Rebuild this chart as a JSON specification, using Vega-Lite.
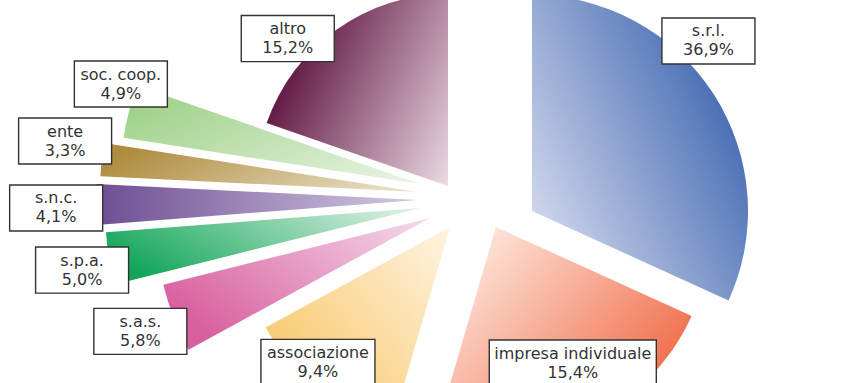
{
  "$schema": "https://vega.github.io/schema/vega-lite/v6.json",
  "width": 794,
  "height": 366,
  "autosize": {"type": "none"},
  "padding": {"left": 48, "top": 17, "right": 0, "bottom": 0},
  "background": "white",
  "config": {"view": {"stroke": null}},
  "data": {
    "values": [
      {"forma": "s.r.l.", "pct": 36.9},
      {"forma": "impresa individuale", "pct": 15.4},
      {"forma": "associazione", "pct": 9.4},
      {"forma": "s.a.s.", "pct": 5.8},
      {"forma": "s.p.a.", "pct": 5.0},
      {"forma": "s.n.c.", "pct": 4.1},
      {"forma": "ente", "pct": 3.3},
      {"forma": "soc. coop.", "pct": 4.9},
      {"forma": "altro", "pct": 15.2}
    ]
  },
  "transform": [
    {"window": [{"op": "sum", "field": "pct", "as": "fin"}], "frame": [null, 0]},
    {"calculate": "datum.fin - datum.pct", "as": "ini"},
    {"calculate": "(datum.ini + datum.pct / 2) * PI / 50", "as": "ang"},
    {"calculate": "397 + 390 * sin(datum.ang)", "as": "lx"},
    {"calculate": "183 - 175 * cos(datum.ang)", "as": "ly"},
    {"calculate": "[datum.forma, replace(format(datum.pct, '.1f'), '.', ',') + '%']", "as": "etichetta"}
  ],
  "layer": [
    {
      "encoding": {
        "theta": {
          "field": "ini",
          "type": "quantitative",
          "scale": {
            "zero": false,
            "nice": false,
            "domain": [0, 3.125, 6.25, 9.375, 12.5, 15.625, 18.75, 21.875, 25, 28.125, 31.25, 34.375, 37.5, 40.625, 43.75, 46.875, 50, 53.125, 56.25, 59.375, 62.5, 65.625, 68.75, 71.875, 75, 78.125, 81.25, 84.375, 87.5, 90.625, 93.75, 96.875, 100],
            "range": [0, 0.38711, 0.70407, 0.94021, 1.11684, 1.25577, 1.37148, 1.47411, 1.5708, 1.66749, 1.77011, 1.88583, 2.02476, 2.20139, 2.43753, 2.75448, 3.14159, 3.52871, 3.84566, 4.0818, 4.25843, 4.39736, 4.51307, 4.6157, 4.71239, 4.80908, 4.91171, 5.02743, 5.16636, 5.34299, 5.57913, 5.89607, 6.28319]
          }
        },
        "theta2": {"field": "fin"}
      },
      "layer": [
        {
          "transform": [{"filter": "datum.forma === 's.r.l.'"}],
          "mark": {"type": "arc", "radius": 216, "xOffset": 87, "yOffset": 11,
            "fill": {"gradient": "linear", "x1": 0, "y1": 1, "x2": 1, "y2": 0.3,
              "stops": [{"offset": 0, "color": "#e6e8f5"}, {"offset": 1, "color": "#3a62ae"}]}}
        },
        {
          "transform": [{"filter": "datum.forma === 'impresa individuale'"}],
          "mark": {"type": "arc", "radius": 215, "xOffset": 51, "yOffset": 27,
            "fill": {"gradient": "linear", "x1": 0.2, "y1": 0, "x2": 1, "y2": 0.6,
              "stops": [{"offset": 0, "color": "#fde6dc"}, {"offset": 1, "color": "#f06a46"}]}}
        },
        {
          "transform": [{"filter": "datum.forma === 'associazione'"}],
          "mark": {"type": "arc", "radius": 210, "xOffset": 5, "yOffset": 27,
            "fill": {"gradient": "linear", "x1": 1, "y1": 0, "x2": 0, "y2": 0.9,
              "stops": [{"offset": 0, "color": "#fff4e3"}, {"offset": 1, "color": "#f7c25a"}]}}
        },
        {
          "transform": [{"filter": "datum.forma === 's.a.s.'"}],
          "mark": {"type": "arc", "radius": 275, "xOffset": -15, "yOffset": 18,
            "fill": {"gradient": "linear", "x1": 1, "y1": 0, "x2": 0, "y2": 0.6,
              "stops": [{"offset": 0, "color": "#f4dcec"}, {"offset": 1, "color": "#d9609f"}]}}
        },
        {
          "transform": [{"filter": "datum.forma === 's.p.a.'"}],
          "mark": {"type": "arc", "radius": 315, "xOffset": -25, "yOffset": 8,
            "fill": {"gradient": "linear", "x1": 1, "y1": 0.2, "x2": 0, "y2": 0.6,
              "stops": [{"offset": 0, "color": "#d8eee0"}, {"offset": 1, "color": "#11a659"}]}}
        },
        {
          "transform": [{"filter": "datum.forma === 's.n.c.'"}],
          "mark": {"type": "arc", "radius": 322, "xOffset": -27, "yOffset": 0,
            "fill": {"gradient": "linear", "x1": 1, "y1": 0.5, "x2": 0, "y2": 0.5,
              "stops": [{"offset": 0, "color": "#d4cbe3"}, {"offset": 1, "color": "#6d4d93"}]}}
        },
        {
          "transform": [{"filter": "datum.forma === 'ente'"}],
          "mark": {"type": "arc", "radius": 318, "xOffset": -27, "yOffset": -8,
            "fill": {"gradient": "linear", "x1": 1, "y1": 0.7, "x2": 0, "y2": 0.4,
              "stops": [{"offset": 0, "color": "#e8dfc4"}, {"offset": 1, "color": "#ae8b3d"}]}}
        },
        {
          "transform": [{"filter": "datum.forma === 'soc. coop.'"}],
          "mark": {"type": "arc", "radius": 300, "xOffset": -25, "yOffset": -16,
            "fill": {"gradient": "linear", "x1": 1, "y1": 1, "x2": 0, "y2": 0.3,
              "stops": [{"offset": 0, "color": "#ebf5e6"}, {"offset": 1, "color": "#a1d28b"}]}}
        },
        {
          "transform": [{"filter": "datum.forma === 'altro'"}],
          "mark": {"type": "arc", "radius": 192, "xOffset": 3, "yOffset": -14,
            "fill": {"gradient": "linear", "x1": 1, "y1": 1, "x2": 0, "y2": 0.5,
              "stops": [{"offset": 0, "color": "#ecdae4"}, {"offset": 1, "color": "#5a0f3b"}]}}
        }
      ]
    },
    {
      "encoding": {
        "x": {"field": "lx", "type": "quantitative", "scale": null, "axis": null},
        "y": {"field": "ly", "type": "quantitative", "scale": null, "axis": null},
        "text": {"field": "etichetta"}
      },
      "layer": [
        {
          "transform": [{"filter": "datum.forma === 's.r.l.'"}],
          "layer": [
            {"mark": {"type": "point", "shape": "M-1,-0.495L1,-0.495L1,0.495L-1,0.495Z", "size": 8649, "filled": true, "fill": "white", "stroke": "#333333", "strokeWidth": 1.4, "opacity": 1, "xOffset": -94, "yOffset": -89}},
            {"mark": {"type": "text", "font": "DejaVu Sans", "fontSize": 16, "lineHeight": 19, "align": "center", "baseline": "middle", "fill": "#333333", "dy": -9.5, "xOffset": -94, "yOffset": -89}}
          ]
        },
        {
          "transform": [{"filter": "datum.forma === 'impresa individuale'"}],
          "layer": [
            {"mark": {"type": "point", "shape": "M-1.796,-0.495L1.796,-0.495L1.796,0.495L-1.796,0.495Z", "size": 8649, "filled": true, "fill": "white", "stroke": "#333333", "strokeWidth": 1.4, "opacity": 1, "xOffset": -2, "yOffset": -2}},
            {"mark": {"type": "text", "font": "DejaVu Sans", "fontSize": 16, "lineHeight": 19, "align": "center", "baseline": "middle", "fill": "#333333", "dy": -9.5, "xOffset": -2, "yOffset": -2}}
          ]
        },
        {
          "transform": [{"filter": "datum.forma === 'associazione'"}],
          "layer": [
            {"mark": {"type": "point", "shape": "M-1.226,-0.495L1.226,-0.495L1.226,0.495L-1.226,0.495Z", "size": 8649, "filled": true, "fill": "white", "stroke": "#333333", "strokeWidth": 1.4, "opacity": 1, "xOffset": 39, "yOffset": 4}},
            {"mark": {"type": "text", "font": "DejaVu Sans", "fontSize": 16, "lineHeight": 19, "align": "center", "baseline": "middle", "fill": "#333333", "dy": -9.5, "xOffset": 39, "yOffset": 4}}
          ]
        },
        {
          "transform": [{"filter": "datum.forma === 's.a.s.'"}],
          "layer": [
            {"mark": {"type": "point", "shape": "M-1,-0.495L1,-0.495L1,0.495L-1,0.495Z", "size": 8649, "filled": true, "fill": "white", "stroke": "#333333", "strokeWidth": 1.4, "opacity": 1, "xOffset": 5, "yOffset": 25}},
            {"mark": {"type": "text", "font": "DejaVu Sans", "fontSize": 16, "lineHeight": 19, "align": "center", "baseline": "middle", "fill": "#333333", "dy": -9.5, "xOffset": 5, "yOffset": 25}}
          ]
        },
        {
          "transform": [{"filter": "datum.forma === 's.p.a.'"}],
          "layer": [
            {"mark": {"type": "point", "shape": "M-1,-0.495L1,-0.495L1,0.495L-1,0.495Z", "size": 8649, "filled": true, "fill": "white", "stroke": "#333333", "strokeWidth": 1.4, "opacity": 1, "xOffset": 8, "yOffset": 16}},
            {"mark": {"type": "text", "font": "DejaVu Sans", "fontSize": 16, "lineHeight": 19, "align": "center", "baseline": "middle", "fill": "#333333", "dy": -9.5, "xOffset": 8, "yOffset": 16}}
          ]
        },
        {
          "transform": [{"filter": "datum.forma === 's.n.c.'"}],
          "layer": [
            {"mark": {"type": "point", "shape": "M-1,-0.495L1,-0.495L1,0.495L-1,0.495Z", "size": 8649, "filled": true, "fill": "white", "stroke": "#333333", "strokeWidth": 1.4, "opacity": 1, "xOffset": 1, "yOffset": 3}},
            {"mark": {"type": "text", "font": "DejaVu Sans", "fontSize": 16, "lineHeight": 19, "align": "center", "baseline": "middle", "fill": "#333333", "dy": -9.5, "xOffset": 1, "yOffset": 3}}
          ]
        },
        {
          "transform": [{"filter": "datum.forma === 'ente'"}],
          "layer": [
            {"mark": {"type": "point", "shape": "M-1,-0.495L1,-0.495L1,0.495L-1,0.495Z", "size": 8649, "filled": true, "fill": "white", "stroke": "#333333", "strokeWidth": 1.4, "opacity": 1, "xOffset": 2, "yOffset": -23.5}},
            {"mark": {"type": "text", "font": "DejaVu Sans", "fontSize": 16, "lineHeight": 19, "align": "center", "baseline": "middle", "fill": "#333333", "dy": -9.5, "xOffset": 2, "yOffset": -23.5}}
          ]
        },
        {
          "transform": [{"filter": "datum.forma === 'soc. coop.'"}],
          "layer": [
            {"mark": {"type": "point", "shape": "M-1,-0.495L1,-0.495L1,0.495L-1,0.495Z", "size": 8649, "filled": true, "fill": "white", "stroke": "#333333", "strokeWidth": 1.4, "opacity": 1, "xOffset": 25, "yOffset": -38}},
            {"mark": {"type": "text", "font": "DejaVu Sans", "fontSize": 16, "lineHeight": 19, "align": "center", "baseline": "middle", "fill": "#333333", "dy": -9.5, "xOffset": 25, "yOffset": -38}}
          ]
        },
        {
          "transform": [{"filter": "datum.forma === 'altro'"}],
          "layer": [
            {"mark": {"type": "point", "shape": "M-1,-0.495L1,-0.495L1,0.495L-1,0.495Z", "size": 8649, "filled": true, "fill": "white", "stroke": "#333333", "strokeWidth": 1.4, "opacity": 1, "xOffset": 22, "yOffset": -6}},
            {"mark": {"type": "text", "font": "DejaVu Sans", "fontSize": 16, "lineHeight": 19, "align": "center", "baseline": "middle", "fill": "#333333", "dy": -9.5, "xOffset": 22, "yOffset": -6}}
          ]
        }
      ]
    }
  ]
}
